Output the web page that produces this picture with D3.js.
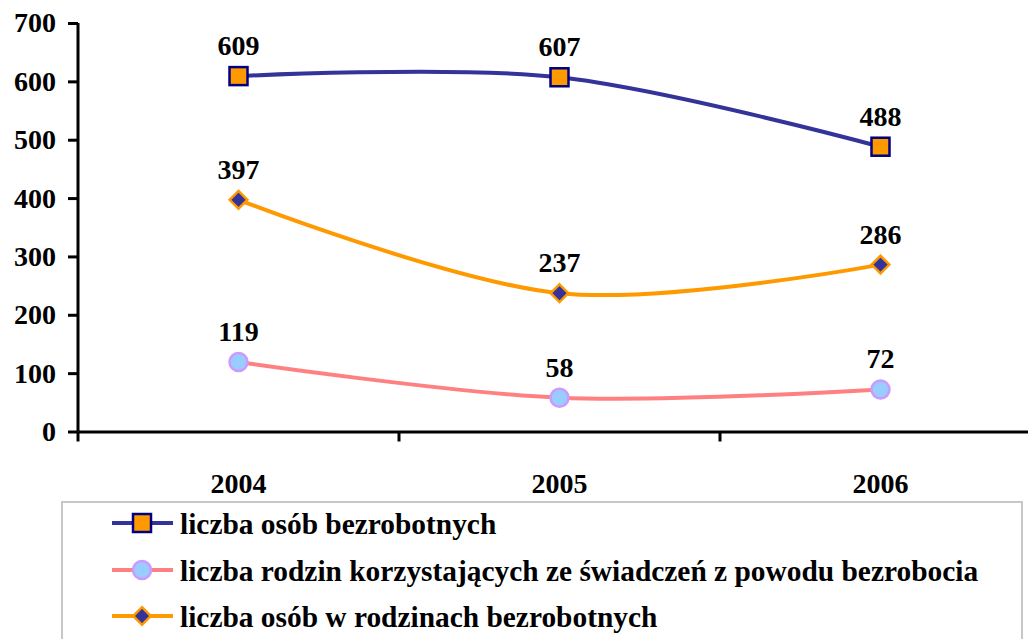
<!DOCTYPE html>
<html>
<head>
<meta charset="utf-8">
<script src="https://cdn.jsdelivr.net/npm/d3@7"></script>
<style>
  body { margin: 0; background: #fff; }
  svg { display: block; font-family: "Liberation Serif", "Times New Roman", serif; font-weight: bold; }
</style>
</head>
<body>
<svg id="vis" width="1028" height="639"></svg>
<script>
const years = ['2004', '2005', '2006'];
const unemployed = [609, 607, 488];
const families = [119, 58, 72];
const peopleInFamilies = [397, 237, 286];
const yTicks = [0, 100, 200, 300, 400, 500, 600, 700];
const legendLabels = [
  'liczba osób bezrobotnych',
  'liczba rodzin korzystających ze świadczeń z powodu bezrobocia',
  'liczba osób w rodzinach bezrobotnych'
];

const svg = d3.select('#vis');

const x = d3.scaleBand().domain(years).range([78, 1041]);
const y = d3.scaleLinear().domain([0, 700]).range([431.5, 23]);

const series = [
  { name: legendLabels[0], values: unemployed, line: '#333399', marker: 'square', fill: '#ff9900', stroke: '#000080' },
  { name: legendLabels[1], values: families, line: '#ff8080', marker: 'circle', fill: '#99ccff', stroke: '#cc99ff' },
  { name: legendLabels[2], values: peopleInFamilies, line: '#ff9900', marker: 'diamond', fill: '#333399', stroke: '#ff9900' }
];

// axes
const yAxis = svg.append('g')
  .attr('transform', 'translate(78,0)')
  .call(d3.axisLeft(y).tickValues(yTicks).tickSize(10).tickPadding(12).tickFormat(d3.format('d')))
  .attr('font-family', null)
  .attr('font-size', 28);
yAxis.select('.domain').attr('stroke', '#000').attr('stroke-width', 3).attr('d', 'M0,' + y(700) + 'V' + y(0));
yAxis.selectAll('.tick line').attr('stroke', '#000').attr('stroke-width', 3);
yAxis.selectAll('.tick text').attr('fill', '#000');

const xAxis = svg.append('g')
  .attr('transform', 'translate(0,' + y(0) + ')')
  .call(d3.axisBottom(x).tickSize(0).tickPadding(42))
  .attr('font-family', null)
  .attr('font-size', 28);
xAxis.select('.domain').attr('stroke', '#000').attr('stroke-width', 3);
xAxis.selectAll('.tick text').attr('fill', '#000');

// category boundary ticks
const bounds = d3.range(years.length + 1).map(i => x.range()[0] + x.step() * i);
svg.append('g').selectAll('line')
  .data(bounds)
  .join('line')
    .attr('x1', d => d)
    .attr('x2', d => d)
    .attr('y1', y(0))
    .attr('y2', y(0) + 10)
    .attr('stroke', '#000')
    .attr('stroke-width', 3);

const cx = (d, i) => x(years[i]) + x.bandwidth() / 2;

const line = d3.line()
  .x(cx)
  .y(d => y(d))
  .curve(d3.curveCardinal.tension(0));

function drawMarker(g, s, px, py) {
  if (s.marker === 'square') {
    g.append('rect')
      .attr('x', px - 9).attr('y', py - 9).attr('width', 18).attr('height', 18)
      .attr('fill', s.fill).attr('stroke', s.stroke).attr('stroke-width', 2.5);
  } else if (s.marker === 'circle') {
    g.append('circle')
      .attr('cx', px).attr('cy', py).attr('r', 9)
      .attr('fill', s.fill).attr('stroke', s.stroke).attr('stroke-width', 2.5);
  } else {
    g.append('path')
      .attr('d', d3.symbol(d3.symbolDiamond2, 200)())
      .attr('transform', 'translate(' + px + ',' + py + ')')
      .attr('fill', s.fill).attr('stroke', s.stroke).attr('stroke-width', 2.5);
  }
}

series.forEach(s => {
  const g = svg.append('g');
  g.append('path')
    .datum(s.values)
    .attr('d', line)
    .attr('fill', 'none')
    .attr('stroke', s.line)
    .attr('stroke-width', 4);
  s.values.forEach((v, i) => drawMarker(g, s, cx(v, i), y(v)));
  g.selectAll('text.val')
    .data(s.values)
    .join('text')
      .attr('class', 'val')
      .attr('x', cx)
      .attr('y', d => y(d) - 21)
      .attr('text-anchor', 'middle')
      .attr('font-size', 28)
      .text(d => d);
});

// legend
const legend = svg.append('g');
legend.append('rect')
  .attr('x', 62).attr('y', 502).attr('width', 960).attr('height', 160)
  .attr('fill', '#fff').attr('stroke', '#c8c8c8').attr('stroke-width', 2);

const rowY = [523, 570, 616];
series.forEach((s, i) => {
  const r = legend.append('g');
  r.append('line')
    .attr('x1', 112).attr('x2', 173).attr('y1', rowY[i]).attr('y2', rowY[i])
    .attr('stroke', s.line).attr('stroke-width', 4);
  drawMarker(r, s, 142, rowY[i]);
  r.append('text')
    .attr('x', 180).attr('y', rowY[i] + 11)
    .attr('font-size', 29.4)
    .text(s.name);
});
</script>
</body>
</html>
